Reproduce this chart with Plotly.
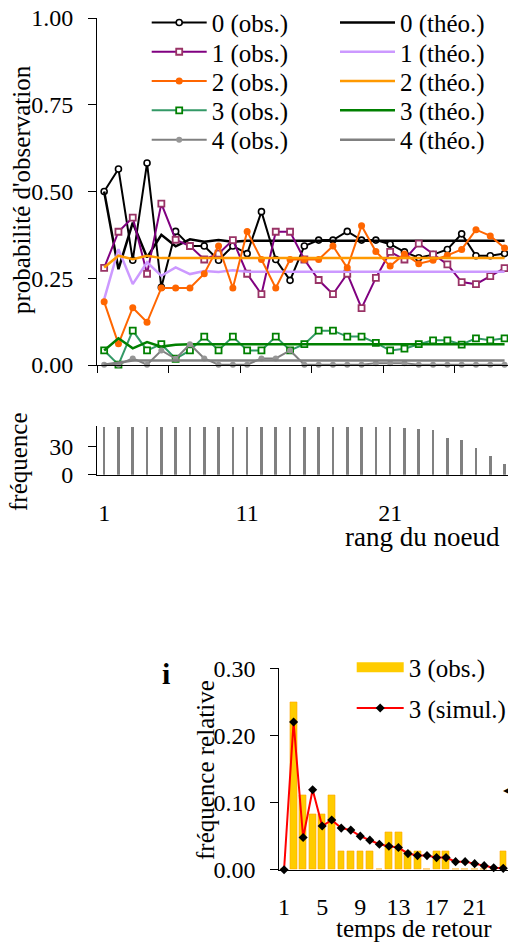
import plotly.graph_objects as go

W, H = 508, 942
FONT = "Liberation Serif"

# ---------------- data: top panel (probabilité d'observation) ----------------
nodes = list(range(1, 30))
obs0 = [0.50, 0.565, 0.302, 0.582, 0.224, 0.385, 0.343, 0.343, 0.302, 0.343, 0.321, 0.442, 0.304,
        0.244, 0.343, 0.360, 0.360, 0.385, 0.360, 0.360, 0.348, 0.326, 0.309, 0.318, 0.333, 0.378,
        0.315, 0.315, 0.321]
obs1 = [0.280, 0.384, 0.425, 0.263, 0.465, 0.361, 0.343, 0.304, 0.321, 0.360, 0.263, 0.204, 0.384,
        0.384, 0.304, 0.245, 0.204, 0.263, 0.164, 0.251, 0.326, 0.304, 0.350, 0.319, 0.290, 0.239,
        0.233, 0.256, 0.279]
obs2 = [0.182, 0.061, 0.165, 0.123, 0.222, 0.222, 0.222, 0.263, 0.343, 0.222, 0.385, 0.304, 0.222,
        0.304, 0.304, 0.304, 0.343, 0.280, 0.401, 0.327, 0.285, 0.320, 0.292, 0.302, 0.316, 0.333,
        0.390, 0.372, 0.337]
obs3 = [0.042, 0.001, 0.099, 0.042, 0.060, 0.018, 0.042, 0.082, 0.042, 0.082, 0.042, 0.042, 0.082,
        0.042, 0.060, 0.099, 0.099, 0.082, 0.082, 0.064, 0.042, 0.047, 0.060, 0.071, 0.071, 0.059,
        0.077, 0.071, 0.077]
obs4 = [0.001, 0.001, 0.019, 0.001, 0.042, 0.018, 0.060, 0.019, 0.001, 0.001, 0.001, 0.019, 0.019,
        0.042, 0.001, 0.001, 0.001, 0.001, 0.001, 0.005, 0.005, 0.005, 0.001, 0.001, 0.001, 0.001,
        0.001, 0.001, 0.001]
theo0 = [0.50, 0.276, 0.41, 0.31, 0.375, 0.342, 0.362, 0.355, 0.360, 0.355, 0.358] + [0.358] * 18
theo1 = [0.189, 0.334, 0.233, 0.296, 0.257, 0.281, 0.262, 0.271, 0.268, 0.273] + [0.269] * 19
theo2 = [0.281, 0.315, 0.305, 0.315, 0.308] + [0.308] * 24
theo3 = [0.042, 0.077, 0.048, 0.066, 0.053, 0.058] + [0.060] * 23
theo4 = [0.001, 0.008] + [0.013] * 27
freq = [51] * 21 + [50, 49, 47.5, 39, 37, 28, 20, 11]

obs_names = ["0 (obs.)", "1 (obs.)", "2 (obs.)", "3 (obs.)", "4 (obs.)"]
theo_names = ["0 (théo.)", "1 (théo.)", "2 (théo.)", "3 (théo.)", "4 (théo.)"]
prob_ticks = [0, 0.25, 0.5, 0.75, 1.0]
prob_ticktext = ["0.00", "0.25", "0.50", "0.75", "1.00"]
node_ticks = [1, 11, 21]
freq_ticks = [0, 30]

# ---------------- data: bottom panel (temps de retour) ----------------
ret_time = list(range(1, 25))
obs_rel = [0, 0.25, 0.111, 0.083, 0.083, 0.111, 0.028, 0.028, 0.028, 0.028, 0, 0.056, 0.056,
           0.028, 0.028, 0, 0.028, 0.028, 0, 0, 0, 0, 0, 0.028]
sim_rel = [0, 0.220, 0.048, 0.119, 0.065, 0.074, 0.062, 0.059, 0.050, 0.044, 0.038, 0.035, 0.033,
           0.024, 0.021, 0.021, 0.018, 0.018, 0.012, 0.012, 0.009, 0.006, 0.003, 0.002]
rel_ticks = [0, 0.1, 0.2, 0.3]
rel_ticktext = ["0.00", "0.10", "0.20", "0.30"]
ret_ticks = [1, 5, 9, 13, 17, 21]


def px(x):
    return x / W


def py(y):
    return 1 - y / H


fig = go.Figure()

obs_series = [obs0, obs1, obs2, obs3, obs4]
theo_series = [theo0, theo1, theo2, theo3, theo4]
obs_line_col = ["#000000", "#800080", "#FF6600", "#339966", "#808080"]
obs_mk = [
    dict(symbol="circle", size=6, color="#FFFFFF", line=dict(color="#000000", width=1.6)),
    dict(symbol="square", size=6, color="#FFFFFF", line=dict(color="#993366", width=1.8)),
    dict(symbol="circle", size=7, color="#FF6600", line=dict(width=0)),
    dict(symbol="square", size=6, color="#FFFFFF", line=dict(color="#008000", width=1.8)),
    dict(symbol="circle", size=6, color="#969696", line=dict(width=0)),
]
theo_col = ["#000000", "#CC99FF", "#FF9900", "#008000", "#808080"]


def leg_id(k):
    return "legend" if k == 1 else f"legend{k}"


for i in range(5):
    fig.add_trace(go.Scatter(
        x=nodes, y=obs_series[i], name=obs_names[i], mode="lines+markers",
        line=dict(color=obs_line_col[i], width=2), marker=obs_mk[i],
        cliponaxis=False, xaxis="x", yaxis="y", legend=leg_id(2 * i + 1)))
    fig.add_trace(go.Scatter(
        x=nodes, y=theo_series[i], name=theo_names[i], mode="lines",
        line=dict(color=theo_col[i], width=2.5),
        cliponaxis=False, xaxis="x", yaxis="y", legend=leg_id(2 * i + 2)))

# frequency bars
fig.add_trace(go.Bar(x=nodes, y=freq, width=0.18, marker=dict(color="#808080", line=dict(width=0)),
                     xaxis="x2", yaxis="y2", showlegend=False))

# bottom panel
fig.add_trace(go.Bar(x=ret_time, y=obs_rel, width=0.72,
                     marker=dict(color="#FFCC00", line=dict(color="#FFA500", width=0.6)),
                     xaxis="x4", yaxis="y3", showlegend=False))
fig.add_trace(go.Scatter(x=ret_time, y=sim_rel, mode="lines+markers", name="3 (simul.)",
                         line=dict(color="#FF0000", width=2),
                         marker=dict(symbol="diamond", size=7, color="#000000"),
                         cliponaxis=False, xaxis="x4", yaxis="y3", legend="legend12"))
# legend proxy for the bars (wide swatch like the original)
fig.add_trace(go.Scatter(x=[None], y=[None], mode="lines", name="3 (obs.)",
                         line=dict(color="#FFCC00", width=15),
                         xaxis="x4", yaxis="y3", legend="legend11"))

axis_common = dict(showgrid=False, zeroline=False, showline=True, linecolor="#000000", linewidth=1,
                   tickcolor="#000000", tickwidth=1, automargin=False,
                   tickfont=dict(family=FONT, size=24, color="#000000"))

xdom = [px(97), 1.0]
xrange_nodes = [0.5, 29.24]
bound_ticks = [0.5, 5.5, 10.5, 15.5, 20.5, 25.5]

layout = dict(
    width=W, height=H, margin=dict(l=0, r=0, t=0, b=0, pad=0, autoexpand=False),
    paper_bgcolor="#FFFFFF", plot_bgcolor="rgba(0,0,0,0)",
    font=dict(family=FONT, size=24, color="#000000"),
    xaxis=dict(axis_common, domain=xdom, range=xrange_nodes, anchor="y",
               tickmode="array", tickvals=bound_ticks, ticks="outside", ticklen=7,
               showticklabels=False),
    yaxis=dict(axis_common, domain=[py(365), py(18)], range=[0, 1], anchor="x",
               tickmode="array", tickvals=prob_ticks, ticktext=prob_ticktext,
               ticks="outside", ticklen=8, ticklabelstandoff=10),
    xaxis2=dict(axis_common, domain=xdom, range=xrange_nodes, anchor="y2",
                tickmode="array", tickvals=node_ticks, ticks="", ticklabelstandoff=16),
    xaxis3=dict(axis_common, range=xrange_nodes, anchor="y2", overlaying="x2",
                tickmode="array", tickvals=bound_ticks, ticks="outside", ticklen=7,
                showticklabels=False, showline=False),
    yaxis2=dict(axis_common, domain=[py(474.7), py(426.2)], range=[0, 52], anchor="x2",
                tickmode="array", tickvals=freq_ticks, ticks="outside", ticklen=8,
                ticklabelstandoff=10),
    xaxis4=dict(axis_common, domain=[px(279.3), 1.0], range=[0.5, 24.5], anchor="y3",
                tickmode="array", tickvals=ret_ticks, ticks="", ticklabelstandoff=15),
    xaxis5=dict(axis_common, range=[0.5, 24.5], anchor="y3", overlaying="x4",
                tickmode="linear", tick0=0.5, dtick=1, ticks="outside", ticklen=8,
                showticklabels=False, showline=False),
    xaxis6=dict(axis_common, range=[0.5, 24.5], anchor="y3", overlaying="x4",
                tickmode="linear", tick0=0.5, dtick=1, ticks="inside", ticklen=9,
                showticklabels=False, showline=False),
    yaxis3=dict(axis_common, domain=[py(869.7), py(668.3)], range=[0, 0.30], anchor="x4",
                tickmode="array", tickvals=rel_ticks, ticktext=rel_ticktext,
                ticks="outside", ticklen=8, ticklabelstandoff=10),
    bargap=0,
)

# legends: one per entry so rows/columns sit where the original has them
LEG_SIZE = 25
row_y = [22.7 + 29.3 * r for r in range(5)]
col_x = [151.7, 340.0]
for r in range(5):
    for c in range(2):
        k = 2 * r + c + 1
        layout[leg_id(k)] = dict(
            x=px(col_x[c] - 5), y=py(row_y[r]), xanchor="left", yanchor="middle",
            font=dict(family=FONT, size=LEG_SIZE, color="#000000"), itemwidth=55,
            bgcolor="rgba(0,0,0,0)", borderwidth=0)
for k, yy in [(11, 667.5), (12, 708.3)]:
    layout[leg_id(k)] = dict(
        x=px(356.7 - 5), y=py(yy), xanchor="left", yanchor="middle",
        font=dict(family=FONT, size=LEG_SIZE, color="#000000"), itemwidth=47,
        bgcolor="rgba(0,0,0,0)", borderwidth=0)

ann_font = dict(family=FONT, size=25, color="#000000")
layout["annotations"] = [
    dict(text="probabilité d'observation", x=px(22), y=py(190), xref="paper", yref="paper",
         textangle=-90, showarrow=False, font=ann_font, xanchor="center", yanchor="middle"),
    dict(text="fréquence", x=px(18), y=py(462), xref="paper", yref="paper",
         textangle=-90, showarrow=False, font=ann_font, xanchor="center", yanchor="middle"),
    dict(text="rang du noeud", x=px(422), y=py(537), xref="paper", yref="paper",
         showarrow=False, font=dict(family=FONT, size=27, color="#000000"),
         xanchor="center", yanchor="middle"),
    dict(text="fréquence relative", x=px(205), y=py(770), xref="paper", yref="paper",
         textangle=-90, showarrow=False, font=ann_font, xanchor="center", yanchor="middle"),
    dict(text="temps de retour", x=px(414), y=py(928), xref="paper", yref="paper",
         showarrow=False, font=ann_font, xanchor="center", yanchor="middle"),
    dict(text="<b>i</b>", x=px(166), y=py(673), xref="paper", yref="paper",
         showarrow=False, font=dict(family=FONT, size=30, color="#000000"),
         xanchor="center", yanchor="middle"),
    dict(text="◀", x=px(509), y=py(790), xref="paper", yref="paper",
         showarrow=False, font=dict(family="DejaVu Sans", size=12, color="#000000"),
         xanchor="left", yanchor="middle", xshift=-8),
]

fig.update_layout(layout)
fig.write_html("out.html", config={"displayModeBar": False},
               post_script="document.body.style.margin='0px';document.body.style.overflow='hidden';")
